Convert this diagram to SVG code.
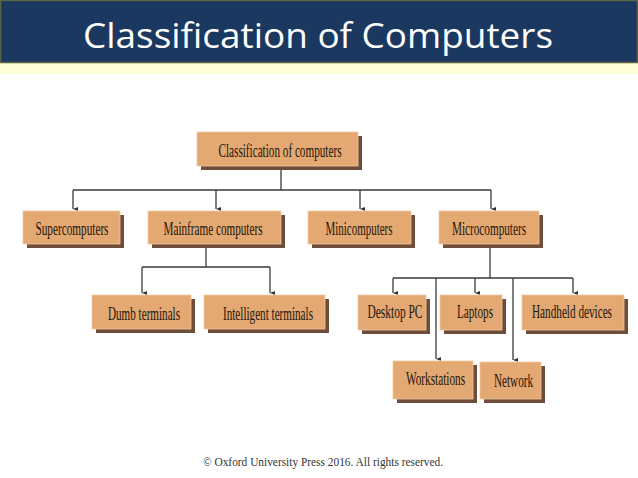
<svg xmlns="http://www.w3.org/2000/svg" width="638" height="478" viewBox="0 0 638 478">
<style>
.face{fill:#e4a872;stroke:#f0c9a0;stroke-width:0.8}
.shadow{fill:#6e4e3a}
.lbl{font-family:"Liberation Serif","Times New Roman",serif;font-size:18px;fill:#24160c;text-anchor:middle}
.conn{fill:none;stroke:#3a3a3a;stroke-width:1.3}
</style>
<defs>
<marker id="arr" viewBox="0 0 8 10" refX="4" refY="10" markerWidth="4" markerHeight="5" markerUnits="userSpaceOnUse" orient="auto-start-reverse">
<path d="M0,0 L8,0 L4,10 Z" fill="#333"/>
</marker>
</defs>
<rect width="638" height="478" fill="#ffffff"/>
<g id="header">
<rect x="0" y="62" width="638" height="12" fill="#fdfdd6"/>
<rect x="0.5" y="0.5" width="637" height="62" fill="#1b3861" stroke="#5c6343" stroke-width="1.5"/>
<text x="318" y="48" font-family="'Open Sans','Noto Sans',sans-serif" font-size="35" fill="#ffffff" text-anchor="middle" textLength="470" lengthAdjust="spacingAndGlyphs">Classification of Computers</text>
</g>
<g id="connectors">
<path class="conn" d="M281,170 V190 M73,190 H491"/>
<path class="conn" d="M73,190 V209" marker-end="url(#arr)"/>
<path class="conn" d="M216,190 V209" marker-end="url(#arr)"/>
<path class="conn" d="M360,190 V209" marker-end="url(#arr)"/>
<path class="conn" d="M491,190 V209" marker-end="url(#arr)"/>
<path class="conn" d="M206,248 V267 M142,267 H270"/>
<path class="conn" d="M142,267 V293" marker-end="url(#arr)"/>
<path class="conn" d="M270,267 V293" marker-end="url(#arr)"/>
<path class="conn" d="M490,248 V278 M393,278 H573"/>
<path class="conn" d="M393,278 V293" marker-end="url(#arr)"/>
<path class="conn" d="M436,278 V359" marker-end="url(#arr)"/>
<path class="conn" d="M475,278 V293" marker-end="url(#arr)"/>
<path class="conn" d="M513,278 V360" marker-end="url(#arr)"/>
<path class="conn" d="M573,278 V293" marker-end="url(#arr)"/>
</g>
<g id="root">
<rect class="shadow" x="201" y="136" width="161" height="34"/>
<rect class="face" x="197" y="132" width="161" height="34"/>
<text class="lbl" x="280" y="157" textLength="123" lengthAdjust="spacingAndGlyphs">Classification of computers</text>
</g>
<g id="supercomputers">
<rect class="shadow" x="27" y="215" width="97" height="33"/>
<rect class="face" x="23" y="211" width="97" height="33"/>
<text class="lbl" x="72" y="235" textLength="73" lengthAdjust="spacingAndGlyphs">Supercomputers</text>
</g>
<g id="mainframe">
<rect class="shadow" x="152" y="215" width="133" height="33"/>
<rect class="face" x="148" y="211" width="133" height="33"/>
<text class="lbl" x="213" y="235" textLength="99" lengthAdjust="spacingAndGlyphs">Mainframe computers</text>
</g>
<g id="minicomputers">
<rect class="shadow" x="312" y="215" width="103" height="33"/>
<rect class="face" x="308" y="211" width="103" height="33"/>
<text class="lbl" x="359" y="235" textLength="67" lengthAdjust="spacingAndGlyphs">Minicomputers</text>
</g>
<g id="microcomputers">
<rect class="shadow" x="443" y="215" width="100" height="33"/>
<rect class="face" x="439" y="211" width="100" height="33"/>
<text class="lbl" x="489" y="235" textLength="74" lengthAdjust="spacingAndGlyphs">Microcomputers</text>
</g>
<g id="dumb-terminals">
<rect class="shadow" x="96" y="299" width="99" height="34"/>
<rect class="face" x="92" y="295" width="99" height="34"/>
<text class="lbl" x="144" y="320" textLength="72" lengthAdjust="spacingAndGlyphs">Dumb terminals</text>
</g>
<g id="intelligent-terminals">
<rect class="shadow" x="208" y="299" width="121" height="34"/>
<rect class="face" x="204" y="295" width="121" height="34"/>
<text class="lbl" x="268" y="320" textLength="90" lengthAdjust="spacingAndGlyphs">Intelligent terminals</text>
</g>
<g id="desktop-pc">
<rect class="shadow" x="362" y="299" width="68" height="35"/>
<rect class="face" x="358" y="295" width="68" height="35"/>
<text class="lbl" x="395" y="318" textLength="55" lengthAdjust="spacingAndGlyphs">Desktop PC</text>
</g>
<g id="laptops">
<rect class="shadow" x="444" y="299" width="62" height="35"/>
<rect class="face" x="440" y="295" width="62" height="35"/>
<text class="lbl" x="475" y="318" textLength="36" lengthAdjust="spacingAndGlyphs">Laptops</text>
</g>
<g id="handheld-devices">
<rect class="shadow" x="526" y="299" width="102" height="35"/>
<rect class="face" x="522" y="295" width="102" height="35"/>
<text class="lbl" transform="translate(572,318) scale(0.68,1)" x="0" y="0" textLength="117.6" lengthAdjust="spacingAndGlyphs">Handheld devices</text>
</g>
<g id="workstations">
<rect class="shadow" x="397" y="365" width="80" height="38"/>
<rect class="face" x="393" y="361" width="80" height="38"/>
<text class="lbl" x="435.5" y="385" textLength="59" lengthAdjust="spacingAndGlyphs">Workstations</text>
</g>
<g id="network">
<rect class="shadow" x="484" y="366" width="61" height="37"/>
<rect class="face" x="480" y="362" width="61" height="37"/>
<text class="lbl" x="513.5" y="387" textLength="39" lengthAdjust="spacingAndGlyphs">Network</text>
</g>
<g id="footer">
<text x="323" y="466" font-family="'Liberation Serif','Times New Roman',serif" font-size="11.5" fill="#333" text-anchor="middle" textLength="240" lengthAdjust="spacingAndGlyphs">© Oxford University Press 2016. All rights reserved.</text>
</g>
</svg>
